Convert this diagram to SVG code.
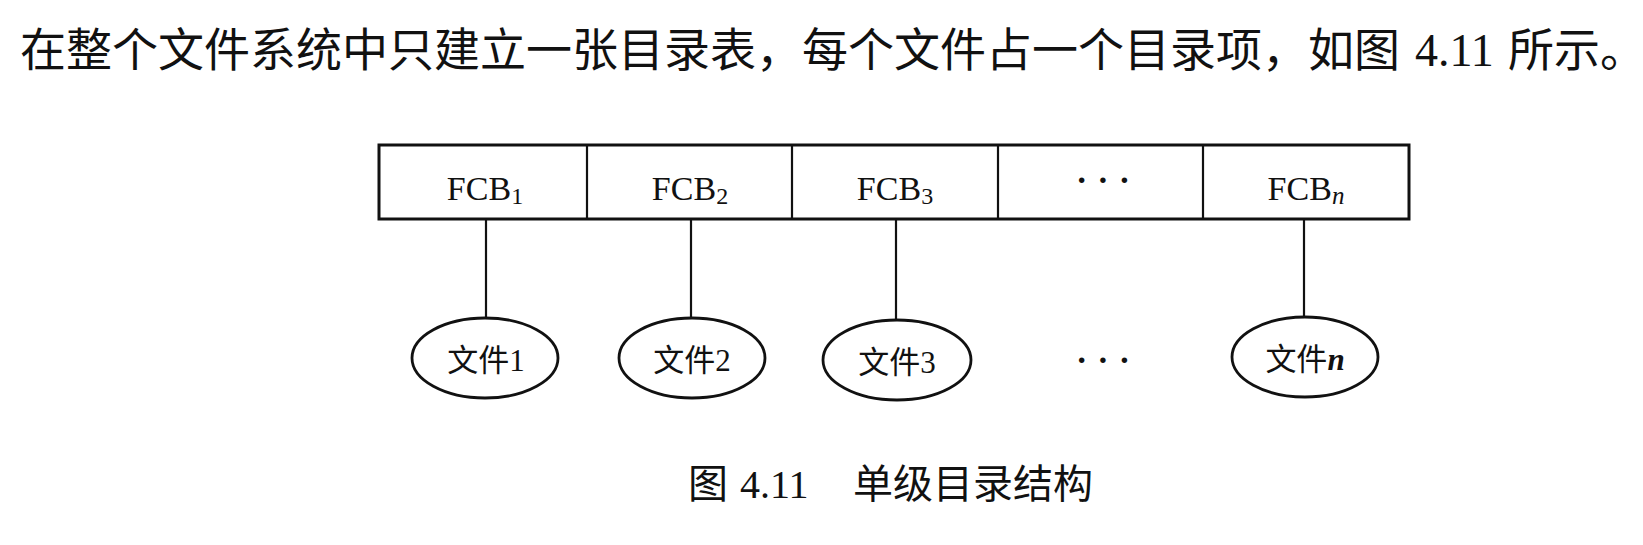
<svg xmlns="http://www.w3.org/2000/svg" width="1643" height="545" viewBox="0 0 1643 545">
<style>
.bg{fill:#fff}
.cjk{font-family:"Noto Sans CJK SC","Liberation Sans",sans-serif;fill:#111}
.ser{font-family:"Liberation Serif","Noto Sans CJK SC",serif;fill:#111}
.box{fill:#fff;stroke:#111;stroke-width:3}
.div{stroke:#111;stroke-width:2.2}
.conn{stroke:#111;stroke-width:2.2;fill:none}
.ell{fill:#fff;stroke:#111;stroke-width:2.8}
.dots{font-weight:bold}
</style>
<rect class="bg" x="0" y="0" width="1643" height="545"/>
<g id="intro">
<text y="66" font-size="46"><tspan class="cjk" x="20">在整个文件系统中只建立一张目录表，每个文件占一个目录项，如图</tspan><tspan class="ser" x="1415">4.11</tspan><tspan class="cjk" x="1508">所示。</tspan></text>
</g>
<g id="connectors">
<line class="conn" x1="486" y1="219" x2="486" y2="318"/>
<line class="conn" x1="691" y1="219" x2="691" y2="318"/>
<line class="conn" x1="896" y1="219" x2="896" y2="320"/>
<line class="conn" x1="1304" y1="219" x2="1304" y2="317"/>
</g>
<g id="directory-table">
<rect class="box" x="379" y="145" width="1030" height="74"/>
<line class="div" x1="587" y1="145" x2="587" y2="219"/>
<line class="div" x1="792" y1="145" x2="792" y2="219"/>
<line class="div" x1="998" y1="145" x2="998" y2="219"/>
<line class="div" x1="1203" y1="145" x2="1203" y2="219"/>
</g>
<g id="fcb1"><text class="ser" x="485" y="200" font-size="34" text-anchor="middle">FCB<tspan font-size="24" dy="4">1</tspan></text></g>
<g id="fcb2"><text class="ser" x="690" y="200" font-size="34" text-anchor="middle">FCB<tspan font-size="24" dy="4">2</tspan></text></g>
<g id="fcb3"><text class="ser" x="895" y="200" font-size="34" text-anchor="middle">FCB<tspan font-size="24" dy="4">3</tspan></text></g>
<g id="fcb-dots"><text class="ser dots" x="1108" y="191" font-size="34" text-anchor="middle" letter-spacing="10">···</text></g>
<g id="fcbn"><text class="ser" x="1306" y="200" font-size="34" text-anchor="middle">FCB<tspan font-size="25" dy="4" font-style="italic">n</tspan></text></g>
<g id="file1"><ellipse class="ell" cx="485" cy="358" rx="73" ry="40"/><text x="486" y="371" font-size="31" text-anchor="middle"><tspan class="cjk">文件</tspan><tspan class="ser">1</tspan></text></g>
<g id="file2"><ellipse class="ell" cx="692" cy="358" rx="73" ry="40"/><text x="692" y="371" font-size="31" text-anchor="middle"><tspan class="cjk">文件</tspan><tspan class="ser">2</tspan></text></g>
<g id="file3"><ellipse class="ell" cx="897" cy="360" rx="74" ry="40"/><text x="897" y="373" font-size="31" text-anchor="middle"><tspan class="cjk">文件</tspan><tspan class="ser">3</tspan></text></g>
<g id="file-dots"><text class="ser dots" x="1108" y="371" font-size="34" text-anchor="middle" letter-spacing="10">···</text></g>
<g id="filen"><ellipse class="ell" cx="1305" cy="357" rx="73" ry="40"/><text x="1305" y="370" font-size="31" text-anchor="middle"><tspan class="cjk">文件</tspan><tspan class="ser" font-style="italic" font-weight="bold">n</tspan></text></g>
<g id="caption">
<text y="498" font-size="40"><tspan class="cjk" x="688">图</tspan><tspan class="ser" x="740">4.11</tspan><tspan class="cjk" x="853">单级目录结构</tspan></text>
</g>
</svg>
